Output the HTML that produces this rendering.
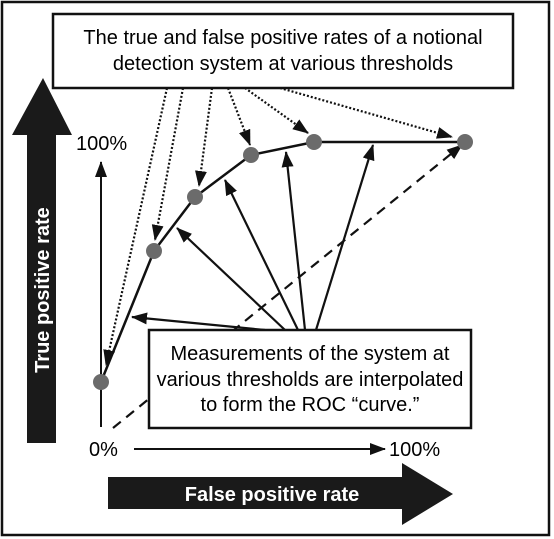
<!DOCTYPE html>
<html><head><style>
body{margin:0;background:#fff;}
svg{display:block;}
text{font-family:"Liberation Sans",sans-serif;}
</style></head><body>
<svg width="554" height="539" viewBox="0 0 554 539" xmlns="http://www.w3.org/2000/svg">
<defs>
<marker id="ahb" markerWidth="16" markerHeight="12" refX="15" refY="6" orient="auto" markerUnits="userSpaceOnUse">
<path d="M0,0 L16,6 L0,12 Z" fill="#111"/></marker>
</defs>
<rect x="2" y="2" width="547" height="533" fill="#fff" stroke="#111" stroke-width="2.5"/>
<path d="M27,443 L27,135 L12,135 L43,78 L72,135 L56,135 L56,443 Z" fill="#1a1a1a"/>
<text transform="translate(49,290) rotate(-90)" text-anchor="middle" font-size="20" font-weight="bold" fill="#fff">True positive rate</text>
<path d="M108,477 L402,477 L402,463 L453,494 L402,525 L402,509 L108,509 Z" fill="#1a1a1a"/>
<text x="272" y="501" text-anchor="middle" font-size="20" font-weight="bold" fill="#fff">False positive rate</text>
<line x1="101" y1="427" x2="101" y2="162" stroke="#111" stroke-width="2" marker-end="url(#ahb)"/>
<line x1="134" y1="449" x2="385" y2="449" stroke="#111" stroke-width="2" marker-end="url(#ahb)"/>
<text x="76" y="150" font-size="20">100%</text>
<text x="89" y="456" font-size="20">0%</text>
<text x="389" y="456" font-size="20">100%</text>
<line x1="113" y1="428" x2="462" y2="145" stroke="#111" stroke-width="2.2" stroke-dasharray="10,7" marker-end="url(#ahb)"/>
<polyline points="101,382 154,251 195,197 251,155 314,142 465,142" fill="none" stroke="#111" stroke-width="2.5"/>
<g stroke="#111" stroke-width="2.2" fill="none">
<line x1="265" y1="330" x2="132" y2="317" marker-end="url(#ahb)"/>
<line x1="285" y1="330" x2="177" y2="228" marker-end="url(#ahb)"/>
<line x1="298" y1="330" x2="225" y2="180" marker-end="url(#ahb)"/>
<line x1="305" y1="330" x2="286" y2="152" marker-end="url(#ahb)"/>
<line x1="316" y1="330" x2="373" y2="145" marker-end="url(#ahb)"/>
</g>
<g stroke="#111" stroke-width="2.2" stroke-dasharray="2,2" fill="none">
<line x1="167" y1="88" x2="106" y2="365" marker-end="url(#ahb)"/>
<line x1="183" y1="88" x2="155" y2="240" marker-end="url(#ahb)"/>
<line x1="212" y1="88" x2="199" y2="186" marker-end="url(#ahb)"/>
<line x1="228" y1="88" x2="250" y2="145" marker-end="url(#ahb)"/>
<line x1="245" y1="88" x2="308" y2="133" marker-end="url(#ahb)"/>
<line x1="280" y1="88" x2="452" y2="137" marker-end="url(#ahb)"/>
</g>
<g fill="#6b6b6b">
<circle cx="101" cy="382" r="8"/><circle cx="154" cy="251" r="8"/><circle cx="195" cy="197" r="8"/>
<circle cx="251" cy="155" r="8"/><circle cx="314" cy="142" r="8"/><circle cx="465" cy="142" r="8"/>
</g>
<rect x="53" y="14" width="460" height="74" fill="#fff" stroke="#111" stroke-width="2.5"/>
<text x="283" y="44" text-anchor="middle" font-size="20">The true and false positive rates of a notional</text>
<text x="283" y="70" text-anchor="middle" font-size="20">detection system at various thresholds</text>
<rect x="149" y="330" width="322" height="98" fill="#fff" stroke="#111" stroke-width="2.5"/>
<text x="310" y="360" text-anchor="middle" font-size="20">Measurements of the system at</text>
<text x="310" y="386" text-anchor="middle" font-size="20">various thresholds are interpolated</text>
<text x="310" y="411" text-anchor="middle" font-size="20">to form the ROC “curve.”</text>
</svg>
</body></html>
